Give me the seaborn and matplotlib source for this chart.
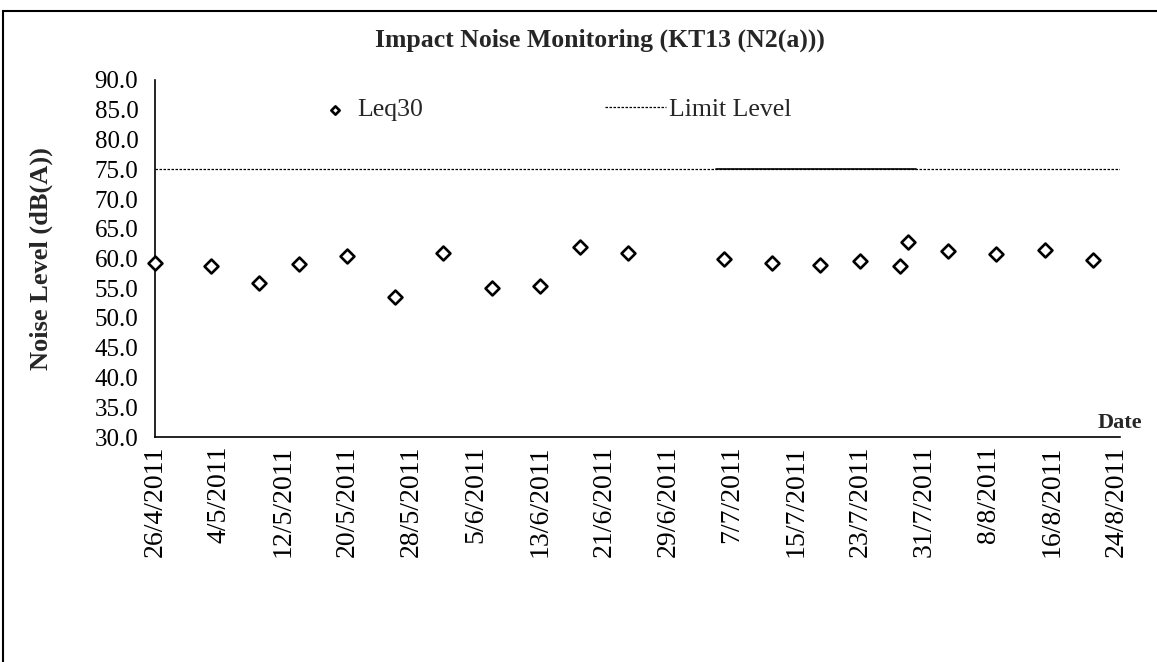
import numpy as np
import pandas as pd
import seaborn as sns
import matplotlib.pyplot as plt
from matplotlib.patches import Rectangle

dates = ['2011-04-26', '2011-05-03', '2011-05-09', '2011-05-14', '2011-05-20',
         '2011-05-26', '2011-06-01', '2011-06-07', '2011-06-13', '2011-06-18',
         '2011-06-24', '2011-07-06', '2011-07-12', '2011-07-18', '2011-07-23',
         '2011-07-28', '2011-07-29', '2011-08-03', '2011-08-09', '2011-08-15',
         '2011-08-21']
leq30 = [59.2, 58.8, 55.8, 59.0, 60.4, 53.5, 60.9, 55.0, 55.4, 61.9, 61.0,
         59.9, 59.3, 58.9, 59.6, 58.8, 62.7, 61.3, 60.8, 61.5, 59.7]

limit_dates = ['2011-04-26', '2011-08-25']
limit_level = [75.0, 75.0]
# short solid piece of the limit series
limit_solid_dates = ['2011-07-05', '2011-07-30']
limit_solid = [75.0, 75.0]

tick_labels = ['26/4/2011', '4/5/2011', '12/5/2011', '20/5/2011', '28/5/2011',
               '5/6/2011', '13/6/2011', '21/6/2011', '29/6/2011', '7/7/2011',
               '15/7/2011', '23/7/2011', '31/7/2011', '8/8/2011', '16/8/2011',
               '24/8/2011']
tick_dates = ['2011-04-26', '2011-05-04', '2011-05-12', '2011-05-20', '2011-05-28',
              '2011-06-05', '2011-06-13', '2011-06-21', '2011-06-29', '2011-07-07',
              '2011-07-15', '2011-07-23', '2011-07-31', '2011-08-08', '2011-08-16',
              '2011-08-24']
y_ticks = [30, 35, 40, 45, 50, 55, 60, 65, 70, 75, 80, 85, 90]

df = pd.DataFrame({'Date': pd.to_datetime(dates), 'Leq30': leq30})
df_lim = pd.DataFrame({'Date': pd.to_datetime(limit_dates), 'Limit': limit_level})
df_solid = pd.DataFrame({'Date': pd.to_datetime(limit_solid_dates), 'Limit': limit_solid})

sns.set_style('white')
plt.rcParams['font.family'] = ['Liberation Serif', 'DejaVu Serif']

fig = plt.figure(figsize=(11.57, 6.62), dpi=100)
ax = fig.add_axes([155 / 1157, 1 - 437 / 662, (1120 - 155) / 1157, (437 - 80) / 662])

sns.lineplot(data=df_lim, x='Date', y='Limit', ax=ax, color='black',
             linestyle=(0, (2, 1.2)), linewidth=0.9, label='Limit Level')
sns.lineplot(data=df_solid, x='Date', y='Limit', ax=ax, color='black',
             linewidth=1.2, label='_nolegend_')
sns.scatterplot(data=df, x='Date', y='Leq30', ax=ax, marker='D', s=50,
                facecolor='white', edgecolor='black', linewidth=1.9,
                label='Leq30', zorder=5, clip_on=False)

ax.set_xlim(pd.Timestamp('2011-04-26'), pd.Timestamp('2011-08-24 10:00'))
ax.set_ylim(30, 90)
ax.set_yticks(y_ticks)
ax.set_yticklabels([f'{v:.1f}' for v in y_ticks], fontsize=18)
ax.set_xticks(pd.to_datetime(tick_dates))
ax.set_xticklabels(tick_labels, rotation=90, fontsize=20)
ax.tick_params(axis='both', direction='in', length=7, width=1, colors='black')
ax.tick_params(axis='y', pad=12)
ax.tick_params(axis='x', pad=6)

for s in ['top', 'right']:
    ax.spines[s].set_visible(False)
for s in ['left', 'bottom']:
    ax.spines[s].set_color('black')
    ax.spines[s].set_linewidth(1.2)

ax.set_xlabel('')
ax.set_ylabel('Noise Level (dB(A))', fontsize=19, fontweight='bold', labelpad=30)
fig.text(600 / 1157, 1 - 40 / 662, 'Impact Noise Monitoring (KT13 (N2(a)))',
         fontsize=18.5, fontweight='bold', ha='center', va='center')
ax.text(1.0, 0.012, 'Date', transform=ax.transAxes, fontsize=16,
        fontweight='bold', ha='center', va='bottom')

# two legend entries placed apart, no frame
h, l = ax.get_legend_handles_labels()
leg1 = ax.legend([h[l.index('Leq30')]], ['Leq30'], frameon=False,
                 loc='center left', bbox_to_anchor=(0.152, 0.916),
                 fontsize=18.5, handlelength=0.8, handletextpad=0.45,
                 markerscale=0.6)
ax.add_artist(leg1)
ax.legend([h[l.index('Limit Level')]], ['Limit Level'], frameon=False,
          loc='center left', bbox_to_anchor=(0.442, 0.916),
          fontsize=18.5, handlelength=2.4, handletextpad=0.1)

# outer frame of the picture
fig.patches.append(Rectangle((3 / 1157, -0.1), 1.1, 1.1 - 11 / 662,
                             transform=fig.transFigure, fill=False,
                             edgecolor='black', linewidth=1.5))

plt.savefig('out.png', dpi=100)
